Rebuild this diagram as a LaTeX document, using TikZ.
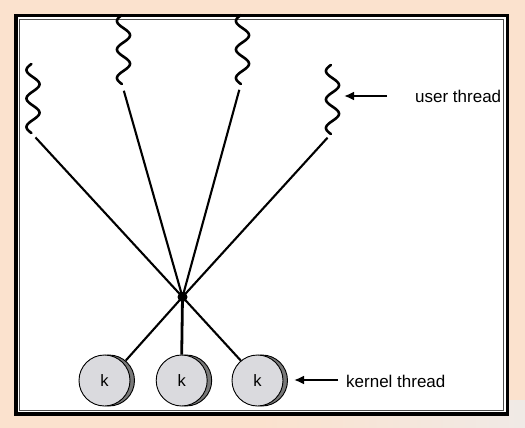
\documentclass[tikz,border=0pt]{standalone}
\usepackage{fontspec}
\setmainfont{Liberation Sans}
\usetikzlibrary{arrows.meta}
\definecolor{peach}{RGB}{251,226,206}
\definecolor{paleedge}{RGB}{240,234,230}
\definecolor{diskfront}{RGB}{218,218,222}
\definecolor{diskback}{RGB}{120,120,120}
\begin{document}
\begin{tikzpicture}[x=1pt,y=-1pt,
  squig/.style={line width=2.6pt,line cap=round,line join=round},
  spoke/.style={line width=2.1pt},
  front/.style={circle,draw=black,line width=0.9pt,fill=diskfront,minimum size=51pt,inner sep=0pt,font=\fontsize{16.5}{19}\selectfont},
  back/.style={circle,draw=black,line width=0.9pt,fill=diskback,minimum size=51pt,inner sep=0pt},
  arr/.style={line width=2.2pt,-{Latex[length=10pt,width=9pt]}},
  lab/.style={anchor=west,inner sep=0pt,font=\fontsize{17}{20}\selectfont}]
\useasboundingbox (0,0) rectangle (525,428);
\fill[peach] (0,0) rectangle (525,428);
\shade[left color=peach,right color=paleedge] (260,400) rectangle (525,428);
% frame
\fill[white] (14,14) rectangle (509,416);
\draw[line width=3.5pt] (16,15.75) rectangle (507.5,414);
\draw[line width=0.9pt,black!70] (19.5,19.5) rectangle (503.5,410.5);
% user threads
\foreach \cx/\ty/\n in {33/64/u1, 123.5/15/u2, 242.5/15/u3, 332.5/65/u4} {
  \draw[squig] plot[variable=\t,domain=0:69,samples=100] ({\cx-6.5*cos(12.6316*(\t-6))},{\ty+\t});
  \coordinate (\n) at ({\cx-1.6},{\ty+69});
}
% hub
\node[circle,fill=black,inner sep=0pt,minimum size=10pt] (hub) at (182.5,297) {};
\draw[spoke,shorten <=6pt] (u1) -- (hub.center);
\draw[spoke,shorten <=7pt] (u2) -- (hub.center);
\draw[spoke,shorten <=6pt] (u3) -- (hub.center);
\draw[spoke,shorten <=5pt] (u4) -- (hub.center);
% kernel threads
\node[back] (k1b) at (109,380.5) {};
\node[front] (k1) at (104.5,380.5) {k};
\node[back] (k2b) at (186.2,380.5) {};
\node[front] (k2) at (181.7,380.5) {k};
\node[back] (k3b) at (262,380.5) {};
\node[front] (k3) at (257.5,380.5) {k};
\draw[spoke] (hub.center) -- (k1b.50);
\draw[line width=2.8pt] (hub.center) -- (k2.north);
\draw[spoke] (hub.center) -- (k3.130);
% labels
\node[lab] (ul) at (415,96.5) {user thread};
\node[lab] (kl) at (346,381) {kernel thread};
\coordinate (uat) at (387,96);
\coordinate (uah) at (344,96);
\coordinate (kat) at (338,380);
\coordinate (kah) at (294,380);
\draw[arr] (uat) -- (uah);
\draw[arr] (kat) -- (kah);
\end{tikzpicture}
\end{document}
